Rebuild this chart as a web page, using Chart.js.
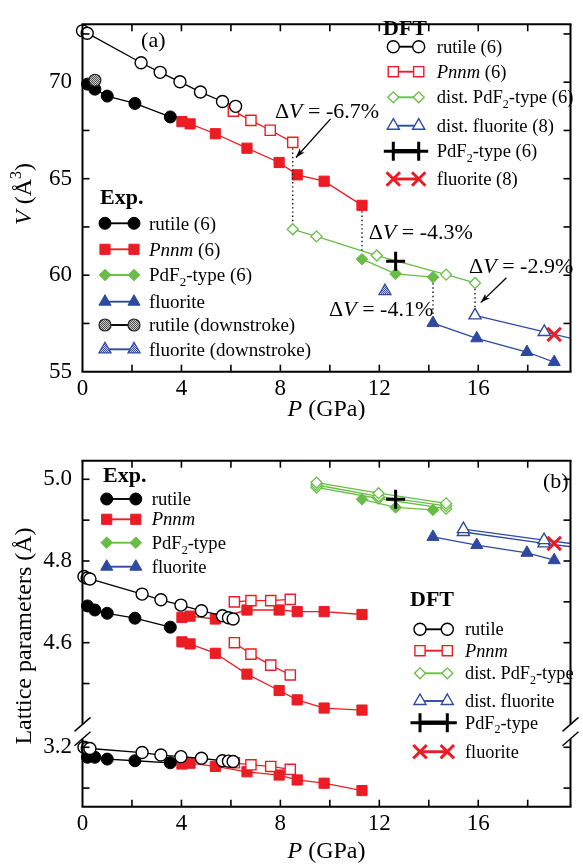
<!DOCTYPE html>
<html><head><meta charset="utf-8">
<script src="https://cdn.jsdelivr.net/npm/chart.js@4/dist/chart.umd.min.js"></script>
<style>
html,body{margin:0;padding:0;background:#fff;}
#wrap{position:relative;width:583px;height:866px;overflow:hidden;}
canvas{position:absolute;left:0;}
</style></head><body>
<div id="wrap">
<canvas id="ca" width="583" height="420" style="top:0;width:583px;height:420px"></canvas>
<canvas id="cb" width="583" height="446" style="top:420px;width:583px;height:446px"></canvas>
</div>
<script>
// ---------------- DATA: panel (a) volume V (Å^3) vs P (GPa) ----------------
const P_rutileExp = [0.2, 0.5, 1.0, 2.12, 3.55];
const V_rutileExp = [69.9, 69.64, 69.28, 68.9, 68.2];
const P_rutileDown = [0.5];
const V_rutileDown = [70.1];
const P_pnnmExp = [4.02, 4.35, 5.37, 6.65, 7.95, 8.68, 9.77, 11.3];
const V_pnnmExp = [67.96, 67.84, 67.33, 66.58, 65.84, 65.2, 64.87, 63.62];
const P_pdf2Exp = [11.3, 12.66, 14.17];
const V_pdf2Exp = [60.83, 60.07, 59.9];
const P_fluoExp = [14.17, 15.94, 17.97, 19.07];
const V_fluoExp = [57.52, 56.73, 56.02, 55.5];
const P_fluoDown = [12.23];
const V_fluoDown = [59.18];

const P_rutileDFT_a = [0, 0.19, 2.37, 3.14, 3.94, 4.77, 5.66, 6.19];
const V_rutileDFT = [72.66, 72.54, 71.01, 70.51, 70.02, 69.49, 69.0, 68.75];
const P_pnnmDFT_a = [6.1, 6.81, 7.59, 8.5];
const V_pnnmDFT = [68.5, 68.02, 67.51, 66.88];
const P_distPdf2DFT_a = [8.5, 9.46, 11.9, 14.7, 15.87];
const V_distPdf2DFT = [62.38, 62.01, 61.02, 60.03, 59.6];
const P_distFluoDFT_a = [15.87, 18.67, 20.0];
const V_distFluoDFT = [57.92, 57.06, 56.65];
const P_pdf2DFT = [12.66];
const V_pdf2DFT = [60.72];
const P_fluoDFT = [19.07];
const V_fluoDFT = [56.93];

// ---------------- DATA: panel (b) lattice parameters (Å) vs P (GPa) ----------------
const A_rutileExp = [4.69, 4.68, 4.672, 4.66, 4.638];
const C_rutileExp = [3.1755, 3.1755, 3.171, 3.167, 3.162];
const A_pnnmExp = [4.662, 4.665, 4.658, 4.68, 4.68, 4.676, 4.676, 4.669];
const B_pnnmExp = [4.602, 4.597, 4.574, 4.523, 4.483, 4.46, 4.44, 4.435];
const C_pnnmExp = [3.159, 3.161, 3.153, 3.140, 3.132, 3.120, 3.112, 3.094];
const L_pdf2Exp = [4.951, 4.931, 4.925];
const L_fluoExp = [4.859, 4.839, 4.82, 4.802];

const P_rutileDFT_b = [0.06, 0.19, 0.3, 2.41, 3.17, 3.98, 4.81, 5.66, 5.9, 6.09];
const A_rutileDFT = [4.762, 4.758, 4.756, 4.719, 4.705, 4.692, 4.678, 4.666, 4.661, 4.658];
const C_rutileDFT = [3.2, 3.198, 3.197, 3.187, 3.181, 3.177, 3.173, 3.167, 3.166, 3.165];
const P_pnnmDFT_b = [6.14, 6.81, 7.61, 8.4];
const A_pnnmDFT = [4.70, 4.703, 4.703, 4.706];
const B_pnnmDFT = [4.60, 4.572, 4.545, 4.521];
const C_pnnmDFT = [3.162, 3.157, 3.153, 3.146];
const P_distPdf2DFT_b = [9.46, 11.97, 14.7];
const A_distPdf2DFT = [4.992, 4.966, 4.941];
const B_distPdf2DFT = [4.986, 4.958, 4.935];
const C_distPdf2DFT = [4.980, 4.953, 4.928];
const L_pdf2DFT = [4.951];
const P_distFluoDFT_b = [15.4, 18.66, 20.0];
const A_distFluoDFT = [4.878, 4.851, 4.841];
const B_distFluoDFT = [4.871, 4.843, 4.833];
const L_fluoDFT = [4.843];

// ---------------- axes / ticks ----------------
const X_MIN = 0, X_MAX = 19.73;
const X_TICK_LABELS = [0, 4, 8, 12, 16];
const X_MINOR = [2, 4, 6, 8, 10, 12, 14, 16, 18];
const YA_MIN = 55, YA_MAX = 73;
const YA_TICK_LABELS = [55, 60, 65, 70];
const YA_MINOR = [57.5, 60, 62.5, 65, 67.5, 70, 72.5];
const YB_UPPER_TICKS = [4.6, 4.8, 5.0];
const YB_LOWER_TICKS = [3.2];
const YB_UPPER_MINOR = [4.5, 4.6, 4.7, 4.8, 4.9, 5.0];
const YB_LOWER_MINOR = [3.1, 3.2];
const YB_MIN = 4.1985, YB_MAX = 5.0455;   // display range of the broken axis
const LOWER_SHIFT = 1.144;                 // lower (c-axis) segment shifted up by this
const BREAK_HI = 4.40, BREAK_LO = 4.365;   // display values of the break gap

// ---------------- styling ----------------
const FF = "'Liberation Serif','Times New Roman',serif";
const RED = '#ec1c24', GREEN = '#68bd46', BLUE = '#2d4a9f', BLACK = '#000';
function fnt(st, size){ return (st==='i'?'italic ':st==='b'?'bold ':'') + size + 'px ' + FF; }

function makePattern(c1, c2){
  const pc = document.createElement('canvas'); pc.width = pc.height = 2;
  const g = pc.getContext('2d');
  g.fillStyle = c2; g.fillRect(0,0,2,2);
  g.fillStyle = c1; g.fillRect(0,0,1,1); g.fillRect(1,1,1,1);
  return document.createElement('canvas').getContext('2d').createPattern(pc, 'repeat');
}
const GRAY_PAT = makePattern('#555', '#c8c8c8');
const BLUE_PAT = makePattern('#3a55a8', '#c8cfe6');

const ST = {
  rutileExp:  {style:'circle',  radius:6,   fill:BLACK, border:BLACK, bw:1,   line:BLACK, lw:1.3},
  pnnmExp:    {style:'rect',    radius:7.2, fill:RED,   border:RED,   bw:1,   line:RED,   lw:1.3},
  pdf2Exp:    {style:'rectRot', radius:5.8, fill:GREEN, border:GREEN, bw:1,   line:GREEN, lw:1.3},
  fluoExp:    {style:'triangle',radius:7,   fill:BLUE,  border:BLUE,  bw:1,   line:BLUE,  lw:1.3},
  rutileDown: {style:'circle',  radius:6,   fill:GRAY_PAT, border:'#222', bw:1.2, line:BLACK, lw:1.3},
  fluoDown:   {style:'triangle',radius:7,   fill:BLUE_PAT, border:BLUE, bw:1.2, line:BLUE, lw:1.3},
  rutileDFT:  {style:'circle',  radius:6,   fill:'#fff', border:BLACK, bw:1.4, line:BLACK, lw:1.3},
  pnnmDFT:    {style:'rect',    radius:7.2, fill:'#fff', border:RED,   bw:1.4, line:RED,   lw:1.3},
  distPdf2:   {style:'rectRot', radius:5.5, fill:'#fff', border:GREEN, bw:1.3, line:GREEN, lw:1.3},
  distFluo:   {style:'triangle',radius:7,   fill:'#fff', border:BLUE,  bw:1.4, line:BLUE,  lw:1.3},
  pdf2DFT:    {style:'cross',   radius:9.5, fill:BLACK, border:BLACK, bw:3,   line:BLACK, lw:3},
  fluoDFT:    {style:'crossRot',radius:9.5, fill:RED,   border:RED,   bw:3,   line:RED,   lw:2},
};

function pts(P, V, shift){ return P.map((x,i)=>({x, y: V[i] + (shift||0)})); }
function ds(points, s, extra){
  return Object.assign({
    data: points, showLine: true, borderColor: s.line, borderWidth: s.lw,
    pointStyle: s.style, pointRadius: s.radius, pointHoverRadius: s.radius,
    pointBackgroundColor: s.fill, pointBorderColor: s.border, pointBorderWidth: s.bw,
    pointHoverBorderWidth: s.bw, tension: 0, fill: false, clip: false
  }, extra || {});
}
const clipRight = {clip: {left: false, top: false, right: 0, bottom: false}};

// ---------------- drawing helpers ----------------
function rich(ctx, parts, x, y, size, align){
  const segs = parts.map(([t,k])=>{
    let s = size, dy = 0, st = k;
    if (k==='sub'){ s = Math.round(size*0.66); dy = size*0.26; st='n'; }
    if (k==='sup'){ s = Math.round(size*0.66); dy = -size*0.42; st='n'; }
    ctx.font = fnt(st, s);
    return {t, f: ctx.font, dy, w: ctx.measureText(t).width};
  });
  const W = segs.reduce((a,b)=>a+b.w,0);
  let cx = align==='center' ? x-W/2 : align==='right' ? x-W : x;
  ctx.textAlign='left'; ctx.textBaseline='alphabetic'; ctx.fillStyle='#000';
  segs.forEach(s=>{ ctx.font=s.f; ctx.fillText(s.t, cx, y+s.dy); cx+=s.w; });
  return W;
}
function line(ctx,x1,y1,x2,y2){ ctx.beginPath(); ctx.moveTo(x1,y1); ctx.lineTo(x2,y2); ctx.stroke(); }
function marker(ctx, s, x, y){
  const r = s.radius;
  ctx.save();
  ctx.lineWidth = s.bw; ctx.strokeStyle = s.border; ctx.fillStyle = s.fill;
  ctx.beginPath();
  if (s.style==='circle'){ ctx.arc(x,y,r,0,Math.PI*2); ctx.closePath(); }
  else if (s.style==='rect'){ const h=Math.SQRT1_2*r; ctx.rect(x-h,y-h,2*h,2*h); }
  else if (s.style==='rectRot'){ ctx.moveTo(x-r,y); ctx.lineTo(x,y-r); ctx.lineTo(x+r,y); ctx.lineTo(x,y+r); ctx.closePath(); }
  else if (s.style==='triangle'){ let a=0; ctx.moveTo(x+Math.sin(a)*r, y-Math.cos(a)*r); a+=2*Math.PI/3; ctx.lineTo(x+Math.sin(a)*r, y-Math.cos(a)*r); a+=2*Math.PI/3; ctx.lineTo(x+Math.sin(a)*r, y-Math.cos(a)*r); ctx.closePath(); }
  else if (s.style==='cross'){ ctx.moveTo(x,y-r); ctx.lineTo(x,y+r); ctx.moveTo(x-r,y); ctx.lineTo(x+r,y); }
  else if (s.style==='crossRot'){ const o=Math.SQRT1_2*r; ctx.moveTo(x-o,y-o); ctx.lineTo(x+o,y+o); ctx.moveTo(x-o,y+o); ctx.lineTo(x+o,y-o); }
  if (s.style!=='cross' && s.style!=='crossRot') ctx.fill();
  ctx.stroke();
  ctx.restore();
}
function legendBlock(ctx, header, hx, hy, items, m1, m2, tx, size){
  rich(ctx, [[header,'b']], hx, hy + 0.33*22+0.5, 22, 'left');
  items.forEach(it=>{
    ctx.save(); ctx.strokeStyle = it.s.line; ctx.lineWidth = it.s.lw*1.45;
    line(ctx, m1, it.y, m2, it.y); ctx.restore();
    marker(ctx, it.s, m1, it.y); marker(ctx, it.s, m2, it.y);
    rich(ctx, it.label, tx, it.y + 0.33*size, size, 'left');
  });
}
function rotTitle(ctx, parts, cx, cy, size){
  ctx.save(); ctx.translate(cx, cy); ctx.rotate(-Math.PI/2);
  rich(ctx, parts, 0, 0.33*size, size, 'center'); ctx.restore();
}
function dotted(ctx, x1,y1,x2,y2){
  ctx.save(); ctx.strokeStyle='#000'; ctx.lineWidth=1.3; ctx.setLineDash([1.4,2.8]);
  line(ctx,x1,y1,x2,y2); ctx.restore();
}
function arrow(ctx, x1,y1,x2,y2){
  ctx.save(); ctx.strokeStyle='#000'; ctx.fillStyle='#000'; ctx.lineWidth=1.3;
  line(ctx,x1,y1,x2,y2);
  const a = Math.atan2(y2-y1, x2-x1), L=10, w=0.33;
  ctx.beginPath(); ctx.moveTo(x2,y2);
  ctx.lineTo(x2 - L*Math.cos(a-w), y2 - L*Math.sin(a-w));
  ctx.lineTo(x2 - 0.7*L*Math.cos(a), y2 - 0.7*L*Math.sin(a));
  ctx.lineTo(x2 - L*Math.cos(a+w), y2 - L*Math.sin(a+w));
  ctx.closePath(); ctx.fill(); ctx.restore();
}
function frameTicks(ctx, a, xs, ys, xMinor, yMinor, brk){
  ctx.save(); ctx.strokeStyle='#000'; ctx.lineWidth=2;
  line(ctx, a.left-1, a.top, a.right+1, a.top);
  line(ctx, a.left-1, a.bottom, a.right+1, a.bottom);
  if (brk){
    const yh = ys.getPixelForValue(BREAK_HI), yl = ys.getPixelForValue(BREAK_LO);
    [a.left, a.right].forEach(xx=>{
      line(ctx, xx, a.top, xx, yh); line(ctx, xx, yl, xx, a.bottom);
      ctx.save(); ctx.lineWidth=1.4;
      line(ctx, xx-8, yh+7, xx+8, yh-7); line(ctx, xx-8, yl+7, xx+8, yl-7);
      ctx.restore();
    });
  } else {
    line(ctx, a.left, a.top, a.left, a.bottom); line(ctx, a.right, a.top, a.right, a.bottom);
  }
  ctx.lineWidth=1.6; const TL=7;
  xMinor.forEach(v=>{ const p=xs.getPixelForValue(v); line(ctx,p,a.bottom,p,a.bottom-TL); line(ctx,p,a.top,p,a.top+TL); });
  yMinor.forEach(v=>{ const p=ys.getPixelForValue(v); line(ctx,a.left,p,a.left+TL,p); line(ctx,a.right,p,a.right-TL,p); });
  ctx.restore();
}
const dV = t => [['\u0394','n'],['V','i'],[' = ' + t,'n']];
const pdf2 = rest => [['PdF','n'],['2','sub'],[rest,'n']];

function xScale(h){
  return { type:'linear', min:X_MIN, max:X_MAX,
    afterBuildTicks: s => { s.ticks = X_TICK_LABELS.map(v=>({value:v})); },
    afterFit: s => { s.height = h; },
    ticks: { font:{family:FF, size:23}, color:'#000', padding:3, maxRotation:0, autoSkip:false, callback: v => String(v) },
    grid:{display:false, drawTicks:false}, border:{display:false} };
}

// ---------------- Panel (a) ----------------
const plugA = {
  id:'plugA',
  afterDatasetsDraw(chart){
    const {ctx, chartArea:a, scales:{x, y}} = chart;
    const X = v => x.getPixelForValue(v), Y = v => y.getPixelForValue(v);
    const last = arr => arr[arr.length-1];
    dotted(ctx, X(last(P_pnnmDFT_a)), Y(last(V_pnnmDFT))+6, X(P_distPdf2DFT_a[0]), Y(V_distPdf2DFT[0])-6);
    dotted(ctx, X(last(P_pnnmExp)), Y(last(V_pnnmExp))+6, X(P_pdf2Exp[0]), Y(V_pdf2Exp[0])-6);
    dotted(ctx, X(last(P_pdf2Exp)), Y(last(V_pdf2Exp))+6, X(P_fluoExp[0]), Y(V_fluoExp[0])-6);
    dotted(ctx, X(last(P_distPdf2DFT_a)), Y(last(V_distPdf2DFT))+6, X(P_distFluoDFT_a[0]), Y(V_distFluoDFT[0])-6);
    arrow(ctx, X(10.03), Y(68.1), X(8.63), Y(66.1));
    arrow(ctx, X(17.14), Y(59.87), X(16.1), Y(58.58));
    const S = 22;
    rich(ctx, dV('-6.7%'), X(7.78), Y(68.5)+0.33*S, S, 'left');
    rich(ctx, dV('-4.3%'), X(11.57), Y(62.25)+0.33*S, S, 'left');
    rich(ctx, dV('-4.1%'), X(9.97), Y(58.25)+0.33*S, S, 'left');
    rich(ctx, dV('-2.9%'), X(15.63), Y(60.48)+0.33*S, S, 'left');
    rich(ctx, [['(a)','n']], X(2.37), Y(72.2)+0.33*S, S, 'left');
    frameTicks(ctx, a, x, y, X_MINOR, YA_MINOR, false);
    rich(ctx, [['P','i'],[' (GPa)','n']], (a.left+a.right)/2, 408+0.33*24, 24, 'center');
    rotTitle(ctx, [['V','i'],[' (\u00C5','n'],['3','sup'],[')','n']], 23, (a.top+a.bottom)/2 - 4, 24);
    legendBlock(ctx, 'DFT', 383, 27, [
      {s:ST.rutileDFT, y:46.7, label:[['rutile (6)','n']]},
      {s:ST.pnnmDFT, y:71.7, label:[['Pnnm','i'],[' (6)','n']]},
      {s:ST.distPdf2, y:97.3, label:[['dist. ','n']].concat(pdf2('-type (6)'))},
      {s:ST.distFluo, y:125.7, label:[['dist. fluorite (8)','n']]},
      {s:ST.pdf2DFT, y:151.2, label:pdf2('-type (6)')},
      {s:ST.fluoDFT, y:179, label:[['fluorite (8)','n']]},
    ], 393.3, 418.7, 436.7, 18.6);
    legendBlock(ctx, 'Exp.', 100, 196, [
      {s:ST.rutileExp, y:223.3, label:[['rutile (6)','n']]},
      {s:ST.pnnmExp, y:249.3, label:[['Pnnm','i'],[' (6)','n']]},
      {s:ST.pdf2Exp, y:275, label:pdf2('-type (6)')},
      {s:ST.fluoExp, y:301.7, label:[['fluorite','n']]},
      {s:ST.rutileDown, y:325, label:[['rutile (downstroke)','n']]},
      {s:ST.fluoDown, y:349.3, label:[['fluorite (downstroke)','n']]},
    ], 105, 134, 149, 19);
  }
};

new Chart(document.getElementById('ca'), {
  type:'scatter',
  data:{ datasets:[
    ds(pts(P_pdf2DFT, V_pdf2DFT), ST.pdf2DFT),
    ds(pts(P_fluoDFT, V_fluoDFT), ST.fluoDFT),
    ds(pts(P_rutileDFT_a, V_rutileDFT), ST.rutileDFT),
    ds(pts(P_pnnmDFT_a, V_pnnmDFT), ST.pnnmDFT),
    ds(pts(P_distPdf2DFT_a, V_distPdf2DFT), ST.distPdf2),
    ds(pts(P_distFluoDFT_a, V_distFluoDFT), ST.distFluo, clipRight),
    ds(pts(P_rutileDown, V_rutileDown), ST.rutileDown),
    ds(pts(P_fluoDown, V_fluoDown), ST.fluoDown),
    ds(pts(P_rutileExp, V_rutileExp), ST.rutileExp),
    ds(pts(P_pnnmExp, V_pnnmExp), ST.pnnmExp),
    ds(pts(P_pdf2Exp, V_pdf2Exp), ST.pdf2Exp),
    ds(pts(P_fluoExp, V_fluoExp), ST.fluoExp),
  ]},
  options:{
    responsive:false, animation:false, devicePixelRatio:1,
    layout:{padding:{top:8.3, right:7.3, left:0, bottom:0}},
    plugins:{legend:{display:false}, tooltip:{enabled:false}},
    events:[],
    scales:{
      x: xScale(48.3),
      y: { type:'linear', min:YA_MIN, max:YA_MAX,
        afterBuildTicks: s => { s.ticks = YA_TICK_LABELS.map(v=>({value:v})); },
        afterFit: s => { s.width = 82.5; },
        ticks:{ font:{family:FF, size:23}, color:'#000', padding:10.5, callback: v => String(v) },
        grid:{display:false, drawTicks:false}, border:{display:false} }
    }
  },
  plugins:[plugA]
});

// ---------------- Panel (b) ----------------
const plugB = {
  id:'plugB',
  afterDatasetsDraw(chart){
    const {ctx, chartArea:a, scales:{x, y}} = chart;
    frameTicks(ctx, a, x, y, X_MINOR, YB_UPPER_MINOR.concat(YB_LOWER_MINOR.map(v=>v+LOWER_SHIFT)), true);
    rich(ctx, [['(b)','n']], 543, 61+0.33*22, 22, 'left');
    rich(ctx, [['P','i'],[' (GPa)','n']], (a.left+a.right)/2, 430+0.33*24, 24, 'center');
    rotTitle(ctx, [['Lattice parameters (\u00C5)','n']], 23, 216, 24);
    legendBlock(ctx, 'Exp.', 103, 54, [
      {s:ST.rutileExp, y:79, label:[['rutile','n']]},
      {s:ST.pnnmExp, y:99.3, label:[['Pnnm','i']]},
      {s:ST.pdf2Exp, y:122.7, label:pdf2('-type')},
      {s:ST.fluoExp, y:146.7, label:[['fluorite','n']]},
    ], 106.7, 135.8, 151.7, 18.6);
    legendBlock(ctx, 'DFT', 410, 178, [
      {s:ST.rutileDFT, y:209.3, label:[['rutile','n']]},
      {s:ST.pnnmDFT, y:230.7, label:[['Pnnm','i']]},
      {s:ST.distPdf2, y:253.3, label:[['dist. ','n']].concat(pdf2('-type'))},
      {s:ST.distFluo, y:281, label:[['dist. fluorite','n']]},
      {s:ST.pdf2DFT, y:302.7, label:pdf2('-type')},
      {s:ST.fluoDFT, y:331.7, label:[['fluorite','n']]},
    ], 420, 447.3, 465, 18.3);
  }
};

const SH = LOWER_SHIFT;
new Chart(document.getElementById('cb'), {
  type:'scatter',
  data:{ datasets:[
    ds(pts(P_pdf2DFT, L_pdf2DFT), ST.pdf2DFT),
    ds(pts(P_fluoDFT, L_fluoDFT), ST.fluoDFT),
    ds(pts(P_rutileDFT_b, A_rutileDFT), ST.rutileDFT),
    ds(pts(P_rutileDFT_b, C_rutileDFT, SH), ST.rutileDFT),
    ds(pts(P_pnnmDFT_b, A_pnnmDFT), ST.pnnmDFT),
    ds(pts(P_pnnmDFT_b, B_pnnmDFT), ST.pnnmDFT),
    ds(pts(P_pnnmDFT_b, C_pnnmDFT, SH), ST.pnnmDFT),
    ds(pts(P_distPdf2DFT_b, A_distPdf2DFT), ST.distPdf2),
    ds(pts(P_distPdf2DFT_b, B_distPdf2DFT), ST.distPdf2),
    ds(pts(P_distPdf2DFT_b, C_distPdf2DFT), ST.distPdf2),
    ds(pts(P_distFluoDFT_b, A_distFluoDFT), ST.distFluo, clipRight),
    ds(pts(P_distFluoDFT_b, B_distFluoDFT), ST.distFluo, clipRight),
    ds(pts(P_rutileExp, A_rutileExp), ST.rutileExp),
    ds(pts(P_rutileExp, C_rutileExp, SH), ST.rutileExp),
    ds(pts(P_pnnmExp, A_pnnmExp), ST.pnnmExp),
    ds(pts(P_pnnmExp, B_pnnmExp), ST.pnnmExp),
    ds(pts(P_pnnmExp, C_pnnmExp, SH), ST.pnnmExp),
    ds(pts(P_pdf2Exp, L_pdf2Exp), ST.pdf2Exp),
    ds(pts(P_fluoExp, L_fluoExp), ST.fluoExp),
  ]},
  options:{
    responsive:false, animation:false, devicePixelRatio:1,
    layout:{padding:{top:40.7, right:7.3, left:0, bottom:0}},
    plugins:{legend:{display:false}, tooltip:{enabled:false}},
    events:[],
    scales:{
      x: xScale(59.3),
      y: { type:'linear', min:YB_MIN, max:YB_MAX,
        afterBuildTicks: s => { s.ticks = YB_UPPER_TICKS.concat(YB_LOWER_TICKS.map(v=>v+LOWER_SHIFT)).map(v=>({value:v})); },
        afterFit: s => { s.width = 82.5; },
        ticks:{ font:{family:FF, size:23}, color:'#000', padding:10.5,
          callback: v => (v > BREAK_HI ? v : v - LOWER_SHIFT).toFixed(1) },
        grid:{display:false, drawTicks:false}, border:{display:false} }
    }
  },
  plugins:[plugB]
});
</script>
</body></html>
